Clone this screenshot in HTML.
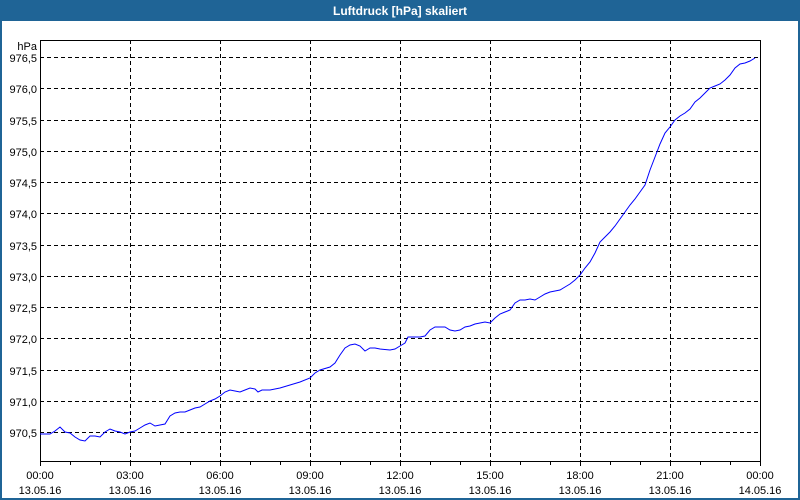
<!DOCTYPE html>
<html><head><meta charset="utf-8"><style>
html,body{margin:0;padding:0;background:#fff}
svg{display:block;font-family:"Liberation Sans",sans-serif}
</style></head><body>
<svg width="800" height="500" viewBox="0 0 800 500" xmlns="http://www.w3.org/2000/svg">
<rect x="0" y="0" width="800" height="500" fill="#1f6496"/>
<rect x="2" y="21" width="796" height="477" fill="#ffffff"/>
<text x="400" y="15" fill="#fff" font-size="12" font-weight="bold" text-anchor="middle">Luftdruck [hPa] skaliert</text>
<g stroke="#000" stroke-width="1" stroke-dasharray="4,3" shape-rendering="crispEdges">
<line x1="40" y1="57.5" x2="760" y2="57.5"/><line x1="40" y1="88.5" x2="760" y2="88.5"/>
<line x1="40" y1="120.5" x2="760" y2="120.5"/><line x1="40" y1="151.5" x2="760" y2="151.5"/>
<line x1="40" y1="182.5" x2="760" y2="182.5"/><line x1="40" y1="213.5" x2="760" y2="213.5"/>
<line x1="40" y1="245.5" x2="760" y2="245.5"/><line x1="40" y1="276.5" x2="760" y2="276.5"/>
<line x1="40" y1="307.5" x2="760" y2="307.5"/><line x1="40" y1="338.5" x2="760" y2="338.5"/>
<line x1="40" y1="370.5" x2="760" y2="370.5"/><line x1="40" y1="401.5" x2="760" y2="401.5"/>
<line x1="40" y1="432.5" x2="760" y2="432.5"/>
<line x1="130.5" y1="40" x2="130.5" y2="461"/><line x1="220.5" y1="40" x2="220.5" y2="461"/>
<line x1="310.5" y1="40" x2="310.5" y2="461"/><line x1="400.5" y1="40" x2="400.5" y2="461"/>
<line x1="490.5" y1="40" x2="490.5" y2="461"/><line x1="580.5" y1="40" x2="580.5" y2="461"/>
<line x1="670.5" y1="40" x2="670.5" y2="461"/>
</g>
<rect x="40.5" y="40.5" width="720" height="421" fill="none" stroke="#000" shape-rendering="crispEdges"/>
<g stroke="#000" shape-rendering="crispEdges">
<path d="M40.5 461v5M70.5 461v4M100.5 461v4M130.5 461v5M160.5 461v4M190.5 461v4M220.5 461v5M250.5 461v4M280.5 461v4M310.5 461v5M340.5 461v4M370.5 461v4M400.5 461v5M430.5 461v4M460.5 461v4M490.5 461v5M520.5 461v4M550.5 461v4M580.5 461v5M610.5 461v4M640.5 461v4M670.5 461v5M700.5 461v4M730.5 461v4M760.5 461v5"/>
</g>
<polyline fill="none" stroke="#0000ff" stroke-width="1" points="40,434 50,434 55,431 60,427 65,432 70,433 75,437 80,440 85,441 90,436 95,436 100,437 105,432 110,429 115,431 120,432 125,434 130,432 135,431 140,428 145,425 150,423 155,426 160,425 165,424 170,416 175,413 180,412 185,412 190,410 195,408 200,407 205,404 210,401 215,399 220,396 225,392 230,390 235,391 240,392 245,390 250,388 255,389 258,392 262,390 270,390 280,388 290,385 300,382 310,378 315,373 320,370 330,367 335,363 340,355 345,348 350,345 355,344 360,346 365,351 370,348 375,348 380,349 390,350 395,349 400,346 405,343 408,337 412,337 420,337 425,336 430,330 435,327 445,327 450,330 455,331 460,330 465,327 470,326 475,324 485,322 490,323 495,318 500,314 505,312 510,310 515,303 520,300 525,300 530,299 535,300 540,297 545,294 550,292 555,291 560,290 565,287 570,284 575,280 580,275 585,268 590,262 595,253 600,242 605,237 610,232 615,226 620,219 625,212 630,205 635,199 640,192 645,185 650,170 655,157 660,144 665,133 670,127 675,120 680,116 685,113 690,109 695,102 700,98 705,93 710,88 715,86 720,84 725,80 730,75 735,68 740,64 745,63 750,61 755,58"/>
<g font-size="11" fill="#000" text-anchor="end">
<text x="37" y="50">hPa</text>
<text x="37" y="62">976,5</text><text x="37" y="93">976,0</text><text x="37" y="125">975,5</text>
<text x="37" y="156">975,0</text><text x="37" y="187">974,5</text><text x="37" y="218">974,0</text>
<text x="37" y="250">973,5</text><text x="37" y="281">973,0</text><text x="37" y="312">972,5</text>
<text x="37" y="343">972,0</text><text x="37" y="375">971,5</text><text x="37" y="406">971,0</text>
<text x="37" y="437">970,5</text>
</g>
<g font-size="11" fill="#000" text-anchor="middle">
<text x="40" y="479">00:00</text><text x="40" y="494">13.05.16</text>
<text x="130" y="479">03:00</text><text x="130" y="494">13.05.16</text>
<text x="220" y="479">06:00</text><text x="220" y="494">13.05.16</text>
<text x="310" y="479">09:00</text><text x="310" y="494">13.05.16</text>
<text x="400" y="479">12:00</text><text x="400" y="494">13.05.16</text>
<text x="490" y="479">15:00</text><text x="490" y="494">13.05.16</text>
<text x="580" y="479">18:00</text><text x="580" y="494">13.05.16</text>
<text x="670" y="479">21:00</text><text x="670" y="494">13.05.16</text>
<text x="760" y="479">00:00</text><text x="760" y="494">14.05.16</text>
</g>
</svg>
</body></html>
